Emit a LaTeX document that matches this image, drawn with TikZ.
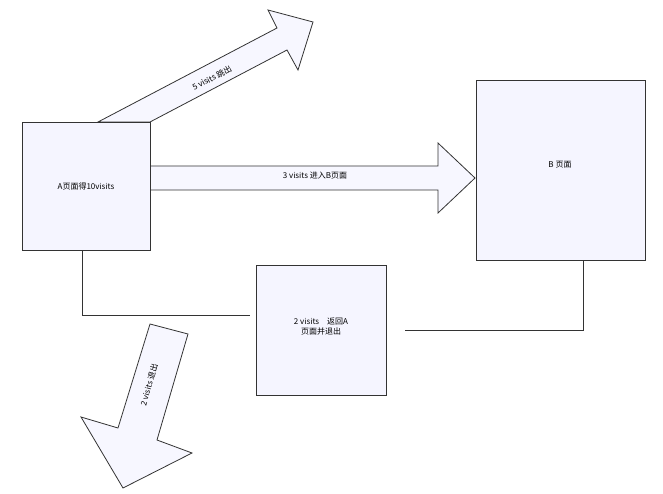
\documentclass[tikz,border=0pt]{standalone}
\usepackage{fontspec}
\setmainfont{Liberation Serif}
\newfontfamily\cjk{Noto Sans CJK SC}
\begin{document}
\begin{tikzpicture}[x=1pt,y=-1pt,
  page/.style={draw=black!80,fill=blue!4,line width=0.8pt},
  bigarrow/.style={draw=black!80,fill=blue!3,line width=0.8pt},
  lbl/.style={font=\cjk\fontsize{8}{10}\selectfont,inner sep=0pt},
  conn/.style={draw=black!80,line width=0.8pt}]
\useasboundingbox (0,0) rectangle (663,494);
\draw[bigarrow] (98,122) -- (277,28) -- (268,10) -- (313,22) -- (298,70) -- (287,50) -- (150,122) -- cycle;
\draw[bigarrow] (150,166) -- (438,166) -- (438,143) -- (475,178) -- (438,213) -- (438,190) -- (150,190) -- cycle;
\draw[bigarrow] (150,324) -- (188,334) -- (157,440) -- (192,453) -- (123,488) -- (81,417) -- (118,428) -- cycle;
\node[page,minimum width=128pt,minimum height=128pt,inner sep=0pt] (A) at (86,186) {};
\node[lbl] at (A.center) {A页面得10visits};
\node[page,minimum width=169pt,minimum height=180pt] (B) at (560.5,170) {};
\node[lbl] at (560,165) {B 页面};
\node[page,minimum width=130pt,minimum height=130pt] (C) at (321,330) {};
\node[lbl,align=center] at (321,327) {2 visits\quad 返回A\\页面并退出};
\node[lbl] at (315,176) {3 visits 进入B页面};
\node[lbl,rotate=28] at (212,78) {5 visits 跳出};
\node[lbl,rotate=74] at (149,385) {2 visits 退出};
\coordinate (c1) at (82,315);
\coordinate (c2) at (250,315);
\coordinate (c3) at (405,330);
\coordinate (c4) at (583,330);
\draw[conn] (A.south -| c1) -- (c1) -- (c2);
\draw[conn] (c3) -- (c4) -- (B.south -| c4);
\end{tikzpicture}
\end{document}
